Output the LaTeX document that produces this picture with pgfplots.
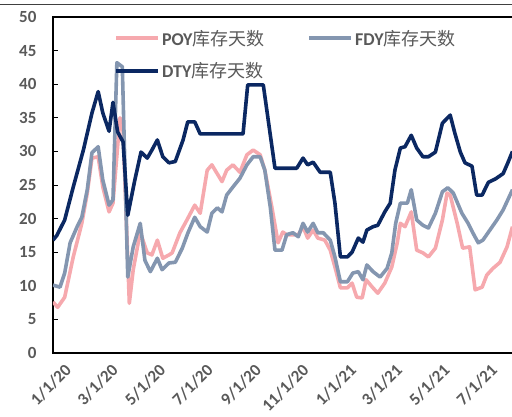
\documentclass[border=0pt]{standalone}
\usepackage{fontspec}
\setmainfont{Carlito}
\newfontfamily\cjk{Noto Sans CJK SC}
\usepackage{pgfplots}
\pgfplotsset{compat=1.18}
\definecolor{poy}{HTML}{F6A9AE}
\definecolor{fdy}{HTML}{8496B0}
\definecolor{dty}{HTML}{0B2862}
\definecolor{txt}{HTML}{595959}
\begin{document}
\begin{tikzpicture}
\begin{axis}[
  scale only axis, width=467.3pt, height=336pt,
  xmin=0, xmax=600, ymin=0, ymax=50,
  ytick={0,5,...,50},
  xtick={0,60,121,182,244,305,366,425,486,547},
  xticklabels={1/1/20,3/1/20,5/1/20,7/1/20,9/1/20,11/1/20,1/1/21,3/1/21,5/1/21,7/1/21},
  axis line style={line width=1.4pt, black},
  ytick pos=left, tick align=inside,
  major tick length=5pt,
  ytick style={line width=1pt, black},
  xtick style={draw=none},
  /pgf/number format/assume math mode=true,
  tick label style={font=\fontsize{17}{20}\selectfont\bfseries, text=txt},
  yticklabel style={xshift=-13pt},
  xticklabel style={rotate=45, anchor=east, xshift=4pt, yshift=-21pt},
  legend columns=2,
  legend cell align=left,
  legend style={at={(rel axis cs:0.131,0.968)}, anchor=north west, draw=none, fill=none,
    inner sep=0pt, row sep=12pt,
    font=\fontsize{18}{22}\selectfont\bfseries, text=txt,
    /tikz/every even column/.append style={column sep=41pt}},
  legend image code/.code={\draw[#1] (0pt,0pt) -- (42pt,0pt);},
  every axis plot/.append style={line width=3.6pt, line join=round},
]
\addplot[poy] coordinates {
(0,7.6)(6,6.8)(15,8.3)(26,14.3)(37,19.3)(44,23.8)(50,29.0)(58,29.2)(64,24.7)(72,21.0)
(77,22.3)(86,35.0)(90,33.0)(98,7.4)(103,12.4)(112,18.0)(121,14.9)(127,14.6)(134,16.8)
(141,14.1)(149,14.6)(153,14.9)(163,17.9)(172,19.8)(182,22.0)(189,20.8)(198,27.2)(204,28.0)
(217,25.5)(223,27.2)(231,28.0)(240,26.9)(249,29.5)(257,30.2)(266,29.5)(272,27.2)(281,21.7)
(289,16.4)(295,18.0)(300,17.6)(315,17.6)(321,18.8)(327,17.1)(334,18.3)(340,17.1)(349,16.8)
(356,15.3)(362,12.8)(369,9.7)(378,9.7)(384,10.4)(390,8.3)(397,8.2)(402,10.9)(410,9.8)
(417,8.9)(426,10.4)(435,12.8)(442,16.4)(446,19.3)(452,18.8)(460,21.0)(467,15.3)(475,14.9)
(482,14.3)(491,15.6)(500,19.8)(506,23.8)(510,23.5)(519,19.3)(526,15.6)(535,15.8)(542,9.4)
(551,9.8)(557,11.6)(565,12.6)(574,13.5)(583,15.8)(590,18.8)
};
\addlegendentry{POY{\cjk\mdseries 库存天数}}
\addplot[fdy] coordinates {
(0,10.1)(9,9.8)(15,11.9)(22,16.4)(31,18.8)(37,20.2)(44,24.3)(50,29.8)(58,30.7)(64,25.7)
(72,22.0)(77,22.8)(82,43.2)(89,42.6)(96,11.3)(103,15.8)(112,19.3)(118,13.8)(125,12.1)
(134,14.1)(140,12.4)(149,13.4)(157,13.5)(166,15.6)(173,17.8)(182,20.2)(189,18.8)(198,18.0)
(204,20.8)(211,21.6)(217,21.0)(223,23.5)(231,24.7)(240,26.0)(249,28.0)(257,29.2)(266,29.2)
(272,27.2)(279,21.7)(285,15.3)(294,15.3)(300,17.6)(308,17.9)(315,17.3)(321,19.3)(327,18.0)
(334,19.3)(340,17.9)(347,17.9)(356,16.8)(362,14.3)(369,10.6)(378,10.6)(385,11.9)(392,12.1)
(398,10.9)(403,13.1)(411,12.1)(420,11.3)(429,12.6)(435,14.9)(440,19.3)(446,22.3)(455,22.3)
(460,24.3)(467,19.8)(475,19.0)(482,18.6)(491,20.8)(500,24.0)(507,24.6)(514,23.8)(525,20.8)
(533,19.3)(539,17.9)(546,16.4)(552,16.8)(561,18.3)(570,19.8)(578,21.3)(584,22.8)(590,24.3)
};
\addlegendentry{FDY{\cjk\mdseries 库存天数}}
\addplot[dty] coordinates {
(0,16.8)(5,17.5)(15,19.8)(26,24.7)(39,30.2)(50,35.7)(58,38.9)(64,35.7)(72,33.0)(77,37.3)
(83,32.9)(90,31.4)(96,20.5)(105,25.7)(113,29.9)(121,29.0)(127,30.2)(134,31.7)(141,29.2)
(149,28.3)(157,28.5)(167,31.7)(173,34.4)(182,34.4)(189,32.6)(244,32.6)(250,39.9)(270,39.9)
(285,27.5)(313,27.5)(321,29.0)(327,28.0)(334,28.4)(343,26.9)(356,26.9)(362,22.3)(369,14.3)
(378,14.3)(384,15.0)(392,17.1)(398,16.5)(403,18.3)(411,18.8)(417,19.0)(426,21.0)(433,22.3)
(439,27.2)(446,30.5)(452,30.7)(460,32.4)(467,30.5)(475,29.2)(482,29.2)(491,29.9)(500,34.2)
(510,35.4)(516,32.7)(523,29.9)(529,28.3)(538,27.8)(544,23.5)(551,23.5)(559,25.4)(568,25.9)
(578,26.7)(584,28.3)(590,30.0)
};
\addlegendentry{DTY{\cjk\mdseries 库存天数}}
\end{axis}
\draw[line width=1.2pt, black!75] (-53pt,348.5pt) -- (459pt,348.5pt);
\pgfresetboundingbox
\useasboundingbox (-53pt,-63pt) rectangle (459pt,353pt);
\end{tikzpicture}
\end{document}
